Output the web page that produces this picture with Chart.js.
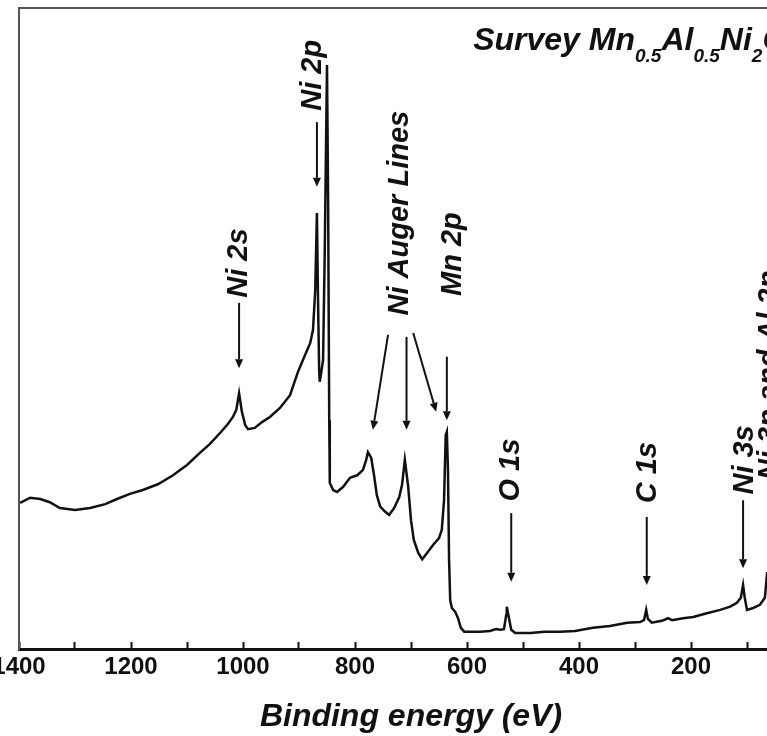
<!DOCTYPE html>
<html>
<head>
<meta charset="utf-8">
<script src="https://cdn.jsdelivr.net/npm/chart.js@4.4.1/dist/chart.umd.min.js"></script>
<style>
  html, body { margin:0; padding:0; background:#fff; overflow:hidden; width:767px; height:736px; }
  #wrap { position:absolute; left:-40px; top:0; width:900px; height:736px; }
</style>
</head>
<body>
<div id="wrap"><canvas id="xps" width="900" height="736"></canvas></div>
<script>
// survey spectrum: binding energy (eV) / intensity (a.u.)
var energies = [
  1398,1380,1362,1345,1327,1300,1273,1246,1225,1202,
  1179,1152,1125,1100,1077,1059,1041,1027,1018,1012,
  1007,1002,996,991,979,966,952,934,916,902,
  889,880,875,871,868,866,864,863,861,857,
  854,850,848,846,845,839,832,821,809,796,
  786,780,777,771,766,761,755,746,739,730,
  721,716,711,705,700,695,687,680,671,661,
  650,645,641,638,636,634,632,630,627,621,
  616,611,605,595,577,559,548,541,534,530,
  529,525,521,514,487,461,434,407,375,345,
  314,291,284,280,277,270,252,241,234,214,
  196,175,148,130,118,111,107,104,100,89,
  77,68,64
];
var counts = [
  22.8,23.6,23.4,22.9,22.0,21.7,22.0,22.6,23.4,24.2,
  24.8,25.7,27.1,28.7,30.6,32.0,33.7,35.1,36.2,37.3,
  39.9,37.0,34.9,34.3,34.5,35.4,36.2,37.6,39.6,43.2,
  45.9,47.7,49.8,56.0,68.0,54.4,43.5,41.7,42.7,45.1,
  62.2,91.1,70.0,35.7,25.9,24.8,24.5,25.3,26.7,27.1,
  27.9,29.5,30.7,29.8,27.1,24.0,22.2,21.4,20.9,22.0,
  23.7,25.6,29.5,25.3,20.1,17.0,15.0,14.0,15.0,16.2,
  17.3,18.6,23.2,33.4,33.9,27.9,13.9,7.6,6.4,5.8,
  4.8,3.3,2.7,2.7,2.7,2.8,3.1,3.0,3.1,5.3,
  6.6,4.8,3.0,2.5,2.5,2.7,2.7,2.8,3.3,3.6,
  4.1,4.2,4.5,6.1,4.7,4.1,4.4,4.8,4.5,4.8,
  5.0,5.5,6.1,6.6,7.2,8.0,10.0,8.0,6.1,6.4,
  6.9,8.0,12.0
];
var labeledTicks = [1400, 1200, 1000, 800, 600, 400, 200, 0];

// peak names: where the text sits and the arrows (eV, a.u.)
var peakLabels = [
  {text:'Ni 2s', at:[1007, 60.2], arrows:[[1007, 54.0, 1007, 43.8]]},
  {text:'Ni 2p', at:[875, 89.5], arrows:[[868, 82.2, 868, 72.1]]},
  {text:'Ni Auger Lines', at:[720, 68.0], arrows:[[741, 49.0, 768, 34.2], [708, 48.7, 708, 34.2], [696, 49.3, 655, 37.0]]},
  {text:'Mn 2p', at:[625, 61.6], arrows:[[636, 45.6, 636, 35.7]]},
  {text:'O 1s', at:[521, 27.9], arrows:[[521, 21.2, 521, 10.5]]},
  {text:'C 1s', at:[277, 27.5], arrows:[[279, 20.6, 279, 10.0]]},
  {text:'Ni 3s', at:[104, 29.5], arrows:[[107, 23.2, 107, 12.6]]},
  {text:'Ni 3p and Al 2p', at:[59, 42.7], arrows:[]}
];
// title pieces, second item = subscript
var titleParts = [['Survey Mn', false], ['0.5', true], ['Al', false], ['0.5', true], ['Ni', false], ['2', true], ['O', false], ['4', true]];
var titleAt = [589, 93.4];

var FONT = "'Liberation Sans', Arial, sans-serif";

function drawArrow(ctx, x1, y1, x2, y2) {
  var ang = Math.atan2(y2 - y1, x2 - x1);
  var len = 9, hw = 4;
  var bx = x2 - len * Math.cos(ang), by = y2 - len * Math.sin(ang);
  ctx.beginPath();
  ctx.moveTo(x1, y1);
  ctx.lineTo(bx, by);
  ctx.stroke();
  ctx.beginPath();
  ctx.moveTo(x2, y2);
  ctx.lineTo(bx + hw * Math.sin(ang), by - hw * Math.cos(ang));
  ctx.lineTo(bx - hw * Math.sin(ang), by + hw * Math.cos(ang));
  ctx.closePath();
  ctx.fill();
}

var peakLabelPlugin = {
  id: 'peakLabels',
  afterDatasetsDraw: function(chart) {
    var ctx = chart.ctx, xs = chart.scales.x, ys = chart.scales.y;
    ctx.save();
    ctx.fillStyle = '#111';
    ctx.strokeStyle = '#111';
    ctx.lineWidth = 2;
    ctx.font = 'italic bold 29px ' + FONT;
    peakLabels.forEach(function(p) {
      ctx.save();
      ctx.translate(xs.getPixelForValue(p.at[0]), ys.getPixelForValue(p.at[1]));
      ctx.rotate(-Math.PI / 2);
      ctx.textAlign = 'center';
      ctx.textBaseline = 'middle';
      ctx.fillText(p.text, 0, 0);
      ctx.restore();
      p.arrows.forEach(function(a) {
        drawArrow(ctx, xs.getPixelForValue(a[0]), ys.getPixelForValue(a[1]),
                       xs.getPixelForValue(a[2]), ys.getPixelForValue(a[3]));
      });
    });
    // title with subscripts
    var x = xs.getPixelForValue(titleAt[0]), y = ys.getPixelForValue(titleAt[1]);
    ctx.textAlign = 'left';
    ctx.textBaseline = 'alphabetic';
    titleParts.forEach(function(t) {
      ctx.font = t[1] ? 'italic bold 19px ' + FONT : 'italic bold 32px ' + FONT;
      ctx.fillText(t[0], x, t[1] ? y + 12 : y);
      x += ctx.measureText(t[0]).width;
    });
    ctx.restore();
  }
};

var chart = new Chart(document.getElementById('xps').getContext('2d'), {
  type: 'line',
  data: {
    datasets: [{
      data: energies.map(function(e, i) { return {x: e, y: counts[i]}; }),
      borderColor: '#111',
      borderWidth: 2.5,
      pointRadius: 0,
      tension: 0,
      fill: false
    }]
  },
  options: {
    responsive: false,
    animation: false,
    layout: { padding: { left: 59, right: 57, top: 8, bottom: 0 } },
    plugins: { legend: { display: false }, tooltip: { enabled: false } },
    scales: {
      x: {
        type: 'linear',
        position: 'bottom',
        reverse: true,
        min: 0,
        max: 1400,
        grid: { display: true, drawOnChartArea: false, drawTicks: true, tickLength: -7, tickColor: '#111', tickWidth: 2 },
        border: { display: true, color: '#111', width: 3 },
        ticks: {
          stepSize: 100,
          autoSkip: false,
          maxRotation: 0,
          padding: 11,
          color: '#111',
          font: { family: FONT, size: 24, weight: 'bold' },
          callback: function(v) { return labeledTicks.indexOf(v) >= 0 ? String(v) : ''; }
        },
        title: {
          display: true,
          text: 'Binding energy (eV)',
          color: '#111',
          padding: 0,
          font: { family: FONT, size: 32, weight: 'bold', style: 'italic' }
        },
        afterFit: function(s) { s.height = 87; }
      },
      top: {
        type: 'linear',
        axis: 'x',
        position: 'top',
        ticks: { display: false },
        grid: { display: false, drawTicks: false },
        border: { display: true, color: '#555', width: 2 },
        afterFit: function(s) { s.height = 0; }
      },
      y: {
        min: 0,
        max: 100,
        ticks: { display: false },
        grid: { display: false, drawTicks: false },
        border: { display: true, color: '#555', width: 2 },
        afterFit: function(s) { s.width = 0; }
      }
    }
  },
  plugins: [peakLabelPlugin]
});
</script>
</body>
</html>
